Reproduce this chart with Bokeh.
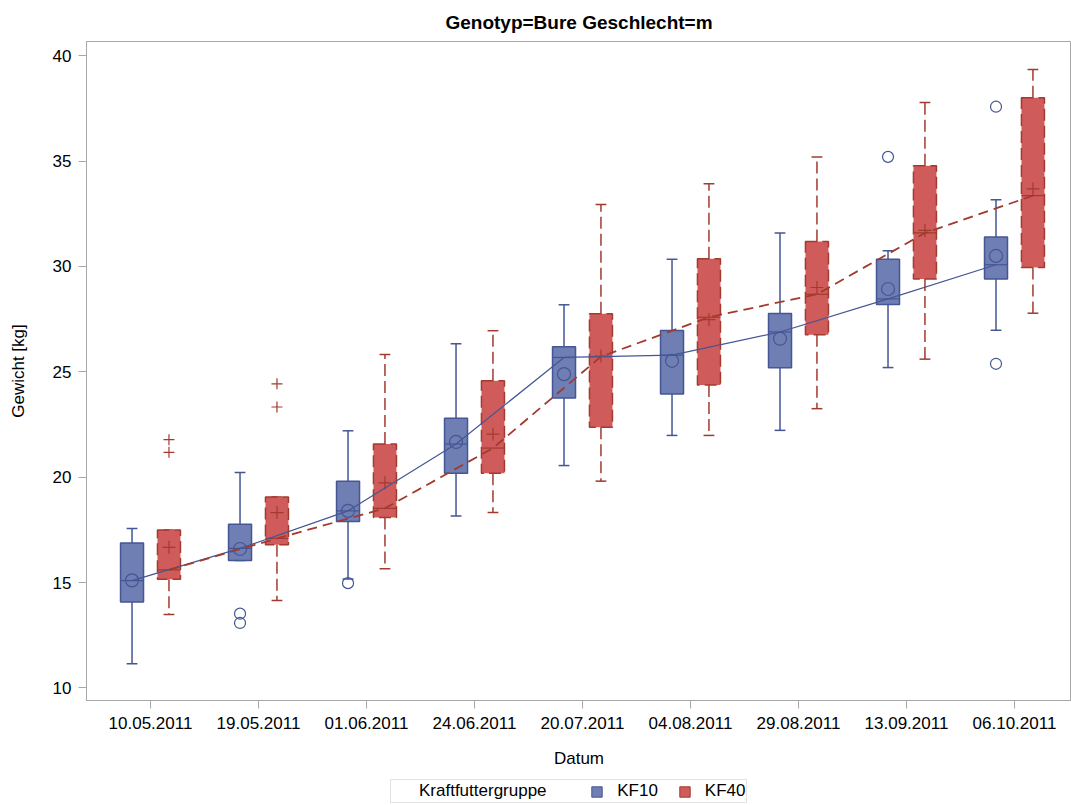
import numpy as np
from bokeh.plotting import figure
from bokeh.layouts import column
from bokeh.models import (ColumnDataSource, FixedTicker, Range1d, Legend, LegendItem)
from bokeh.embed import file_html
from bokeh.resources import INLINE

# ---------------- data ----------------
dates = ["10.05.2011", "19.05.2011", "01.06.2011", "24.06.2011", "20.07.2011",
         "04.08.2011", "29.08.2011", "13.09.2011", "06.10.2011"]

kf10_q1 = [14.07, 16.04, 17.89, 20.19, 23.76, 23.95, 25.19, 28.19, 29.40]
kf10_med = [15.09, 16.62, 18.40, 21.57, 25.68, 25.79, 26.89, 28.46, 30.08]
kf10_q3 = [16.87, 17.77, 19.80, 22.80, 26.19, 26.96, 27.77, 30.34, 31.40]
kf10_lo = [11.15, 16.04, 15.17, 18.16, 20.55, 21.98, 22.22, 25.20, 26.97]
kf10_hi = [17.56, 20.22, 22.20, 26.33, 28.18, 30.34, 31.59, 30.75, 33.16]
kf10_mean = [15.10, 16.59, 18.40, 21.67, 24.89, 25.52, 26.57, 28.93, 30.50]
kf10_out_idx = [1, 1, 2, 7, 8, 8]
kf10_out_val = [13.52, 13.08, 14.97, 35.20, 37.58, 25.38]

kf40_q1 = [15.16, 16.79, 18.08, 20.19, 22.37, 24.37, 26.76, 29.40, 29.95]
kf40_med = [15.60, 17.09, 18.52, 21.38, 25.72, 27.59, 28.68, 31.59, 33.36]
kf40_q3 = [17.49, 19.06, 21.57, 24.58, 27.75, 30.36, 31.18, 34.78, 38.00]
kf40_lo = [13.48, 14.15, 15.65, 18.32, 19.81, 21.98, 23.25, 25.60, 27.78]
kf40_hi = [17.49, 19.06, 25.82, 26.95, 32.94, 33.92, 35.19, 37.78, 39.35]
kf40_mean = [16.67, 18.32, 19.73, 22.04, 25.75, 27.48, 29.00, 31.71, 33.68]
kf40_out_idx = [0, 0, 1, 1]
kf40_out_val = [21.78, 21.18, 23.33, 24.43]

y_ticks = [10, 15, 20, 25, 30, 35, 40]
group_title = "Kraftfuttergruppe"
group_labels = ["KF10", "KF40"]

# ---------------- style ----------------
FONT = "Liberation Sans"
BLUE_FILL, BLUE_LINE = "#6F7EB3", "#445694"
RED_FILL, RED_LINE = "#D05B5B", "#A23A2E"
AXIS_GREY = "#a8a8a8"
OFFSET = 0.171
BOX_W = 0.213
CAP_W = 0.10

p = figure(width=1071, height=770,
           x_range=Range1d(-0.5926, 8.528), y_range=Range1d(9.40, 40.675),
           output_backend="svg", toolbar_location=None,
           min_border_left=86, min_border_right=0, min_border_top=39, min_border_bottom=69)

p.title.text = "Genotyp=Bure Geschlecht=m"
p.title.align = "center"
p.title.text_font = FONT
p.title.text_font_size = "19px"
p.title.text_font_style = "bold"
p.title.text_color = "#000000"
p.title.standoff = 18

p.grid.visible = False
p.outline_line_color = AXIS_GREY
p.background_fill_color = "white"
p.border_fill_color = "white"

idx = np.arange(len(dates), dtype=float)


def draw_group(xpos, q1, med, q3, lo, hi, mean, out_idx, out_val, fill, line, dashed,
               mean_marker, out_marker):
    q1 = np.array(q1); q3 = np.array(q3); med = np.array(med)
    lo = np.array(lo); hi = np.array(hi); mean = np.array(mean)
    dash = "12 5" if dashed else "solid"
    src = ColumnDataSource(dict(x=xpos, q1=q1, q3=q3, med=med, lo=lo, hi=hi, mean=mean,
                                bx0=xpos - BOX_W / 2, bx1=xpos + BOX_W / 2,
                                cx0=xpos - CAP_W / 2, cx1=xpos + CAP_W / 2))
    p.segment(x0="x", y0="q3", x1="x", y1="hi", source=src, line_color=line,
              line_width=1.5, line_dash=dash)
    p.segment(x0="x", y0="q1", x1="x", y1="lo", source=src, line_color=line,
              line_width=1.5, line_dash=dash)
    p.segment(x0="cx0", y0="hi", x1="cx1", y1="hi", source=src, line_color=line, line_width=1.5)
    p.segment(x0="cx0", y0="lo", x1="cx1", y1="lo", source=src, line_color=line, line_width=1.5)
    p.vbar(x="x", width=BOX_W, top="q3", bottom="q1", source=src, fill_color=fill,
           fill_alpha=1.0, line_color=line, line_width=1.5, line_dash=dash)
    p.segment(x0="bx0", y0="med", x1="bx1", y1="med", source=src, line_color=line, line_width=1.2)
    p.scatter(x="x", y="mean", source=src, marker=mean_marker, size=13,
              fill_color=None, line_color=line, line_width=1.2)
    osrc = ColumnDataSource(dict(x=np.array(out_idx, dtype=float) + (xpos[0] - idx[0]),
                                 y=out_val))
    p.scatter(x="x", y="y", source=osrc, marker=out_marker, size=11,
              fill_color=None, line_color=line, line_width=1.2)
    return src


x_blue = idx - OFFSET
x_red = idx + OFFSET
s_blue = draw_group(x_blue, kf10_q1, kf10_med, kf10_q3, kf10_lo, kf10_hi, kf10_mean,
                    kf10_out_idx, kf10_out_val, BLUE_FILL, BLUE_LINE, False, "circle", "circle")
s_red = draw_group(x_red, kf40_q1, kf40_med, kf40_q3, kf40_lo, kf40_hi, kf40_mean,
                   kf40_out_idx, kf40_out_val, RED_FILL, RED_LINE, True, "cross", "cross")

# median connection lines
p.line(x="x", y="med", source=s_blue, line_color=BLUE_LINE, line_width=1.2)
p.line(x="x", y="med", source=s_red, line_color=RED_LINE, line_width=1.8, line_dash="10 6")

# axes
xa = p.xaxis[0]
xa.ticker = FixedTicker(ticks=list(idx))
xa.major_label_overrides = {i: d for i, d in enumerate(dates)}
xa.axis_label = "Datum"
ya = p.yaxis[0]
ya.ticker = FixedTicker(ticks=y_ticks)
ya.axis_label = "Gewicht [kg]"
for ax in (xa, ya):
    ax.axis_line_color = AXIS_GREY
    ax.major_tick_line_color = AXIS_GREY
    ax.minor_tick_line_color = None
    ax.major_tick_out = 8
    ax.major_tick_in = 0
    ax.major_label_text_font = FONT
    ax.major_label_text_font_size = "17px"
    ax.major_label_text_color = "#000000"
    ax.axis_label_text_font = FONT
    ax.axis_label_text_font_size = "17px"
    ax.axis_label_text_font_style = "normal"
    ax.axis_label_text_color = "#000000"
xa.major_label_standoff = 8
xa.axis_label_standoff = 17
ya.major_label_standoff = 7
ya.axis_label_standoff = 22

# ---------------- legend strip (separate small figure) ----------------
lg = figure(width=1071, height=35, x_range=Range1d(0, 1), y_range=Range1d(0, 1),
            x_axis_type=None, y_axis_type=None,
            output_backend="svg", toolbar_location=None,
            min_border_left=0, min_border_right=0, min_border_top=0, min_border_bottom=0)
lg.grid.visible = False
lg.outline_line_color = None
nan = [float("nan")]
r0 = lg.quad(left=nan, right=nan, top=nan, bottom=nan, fill_alpha=0, line_alpha=0)
r1 = lg.quad(left=nan, right=nan, top=nan, bottom=nan, fill_color=BLUE_FILL, line_color=BLUE_LINE)
r2 = lg.quad(left=nan, right=nan, top=nan, bottom=nan, fill_color=RED_FILL, line_color=RED_LINE)
legend = Legend(items=[LegendItem(label=group_title + "\u00a0" * 5, renderers=[r0]),
                       LegendItem(label=group_labels[0], renderers=[r1]),
                       LegendItem(label=group_labels[1], renderers=[r2])],
                orientation="horizontal", location=(304, 2),
                label_text_font=FONT, label_text_font_size="17px", label_text_color="#000000",
                glyph_width=13, glyph_height=13, label_standoff=14, spacing=20,
                label_height=16, padding=1, margin=0,
                border_line_color="#c8c8c8", border_line_width=1,
                background_fill_color="white", background_fill_alpha=1)
lg.add_layout(legend, "center")

layout = column(p, lg, spacing=0)
open("out.html", "w").write(file_html(layout, INLINE))
